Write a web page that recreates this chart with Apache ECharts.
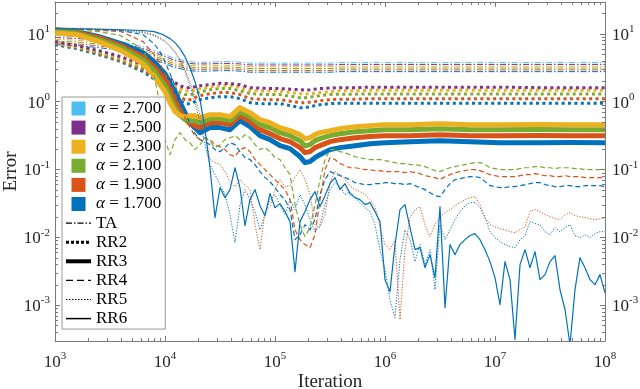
<!DOCTYPE html>
<html><head><meta charset="utf-8">
<script src="https://cdn.jsdelivr.net/npm/echarts@6/dist/echarts.min.js"></script>
<style>html,body{margin:0;padding:0;background:#fff}#c{width:640px;height:389px}</style>
</head><body><div id="c"></div><script>
// ---------- x grids (iterations) ----------
const itersCoarse = [1000,1585,2512,3981,6310,7943,10000,11100,12330,13690,15200,16880,18740,20810,25650,31620,38980,48060,59250,73050,90060,111000,136900,168800,187400,208100,231000,256500,316200,389800,533700,730500,1000000,1688000,3162000,5925000,11100000,25650000,48060000,100000000];
const itersFine = [1000,1585,2512,3981,6310,7943,9009,
 10000,11100,12330,13690,15200,16880,18740,20810,23100,25650,28480,31620,35110,38980,43290,48060,53370,59250,65790,73050,81110,90060,
 100000,111000,123300,136900,152000,168800,187400,208100,231000,256500,284800,316200,351100,389800,432900,480600,533700,592500,657900,730500,811100,900600,
 1000000,1110000,1233000,1369000,1520000,1688000,1874000,2081000,2310000,2565000,2848000,3162000,3511000,3898000,4329000,4806000,5337000,5925000,6579000,7305000,8111000,9006000,
 10000000,11100000,12330000,13690000,15200000,16880000,18740000,20810000,23100000,25650000,28480000,31620000,35110000,38980000,43290000,48060000,53370000,59250000,65790000,73050000,81110000,90060000,
 100000000];

// ---------- TA (dash-dot) ----------
const taA27 = [9.41,9.09,8.50,7.67,6.47,5.65,4.93,4.61,4.31,4.16,4.02,3.89,3.82,3.82,3.82,3.89,3.89,3.82,3.70,3.70,3.70,3.70,3.70,3.70,3.70,3.70,3.70,3.70,3.70,3.76,3.76,3.76,3.76,3.76,3.76,3.76,3.76,3.76,3.76,3.76];
const taA25 = [8.85,8.55,7.99,7.22,6.09,5.32,4.64,4.34,4.05,3.92,3.79,3.66,3.60,3.60,3.60,3.66,3.66,3.60,3.48,3.48,3.48,3.48,3.48,3.48,3.48,3.48,3.48,3.48,3.48,3.54,3.54,3.54,3.54,3.54,3.54,3.54,3.54,3.54,3.54,3.54];
const taA23 = [8.32,8.05,7.52,6.79,5.73,5.00,4.37,4.08,3.81,3.69,3.56,3.44,3.38,3.38,3.38,3.44,3.44,3.38,3.27,3.27,3.27,3.27,3.27,3.27,3.27,3.27,3.27,3.27,3.27,3.33,3.33,3.33,3.33,3.33,3.33,3.33,3.33,3.33,3.33,3.33];
const taA21 = [7.83,7.57,7.07,6.39,5.39,4.71,4.11,3.84,3.59,3.47,3.35,3.24,3.18,3.18,3.18,3.24,3.24,3.18,3.08,3.08,3.08,3.08,3.08,3.08,3.08,3.08,3.08,3.08,3.08,3.13,3.13,3.13,3.13,3.13,3.13,3.13,3.13,3.13,3.13,3.13];
const taA19 = [7.37,7.12,6.65,6.01,5.07,4.43,3.86,3.61,3.37,3.26,3.15,3.05,3.00,3.00,3.00,3.05,3.05,3.00,2.89,2.89,2.89,2.89,2.89,2.89,2.89,2.89,2.89,2.89,2.89,2.94,2.94,2.94,2.94,2.94,2.94,2.94,2.94,2.94,2.94,2.94];
const taA17 = [6.93,6.70,6.26,5.65,4.77,4.16,3.64,3.40,3.17,3.07,2.96,2.87,2.82,2.82,2.82,2.87,2.87,2.82,2.72,2.72,2.72,2.72,2.72,2.72,2.72,2.72,2.72,2.72,2.72,2.77,2.77,2.77,2.77,2.77,2.77,2.77,2.77,2.77,2.77,2.77];

// ---------- RR2 (thick dotted) ----------
const rr2A25 = [7.67,6.70,5.65,4.61,3.51,2.96,2.42,2.18,1.91,1.72,1.61,1.61,1.66,1.72,1.78,1.87,1.84,1.78,1.61,1.585,1.56,1.56,1.53,1.50,1.48,1.50,1.53,1.56,1.585,1.61,1.61,1.635,1.635,1.635,1.635,1.635,1.635,1.61,1.61,1.61];
const rr2A23 = [7.42,6.47,5.46,4.38,3.34,2.77,2.26,1.97,1.72,1.56,1.43,1.43,1.48,1.56,1.635,1.72,1.72,1.635,1.45,1.45,1.43,1.43,1.36,1.31,1.29,1.31,1.335,1.36,1.40,1.45,1.45,1.47,1.47,1.47,1.47,1.47,1.47,1.47,1.47,1.47];
const rr2A21 = [7.29,6.36,5.28,4.16,3.17,2.59,2.04,1.78,1.56,1.36,1.27,1.27,1.31,1.40,1.50,1.56,1.56,1.45,1.31,1.29,1.27,1.27,1.205,1.146,1.146,1.165,1.185,1.23,1.27,1.29,1.29,1.30,1.30,1.30,1.30,1.30,1.30,1.30,1.30,1.30];
const rr2A19 = [7.17,6.26,5.10,4.02,2.96,2.34,1.84,1.61,1.36,1.185,1.07,1.07,1.146,1.23,1.31,1.36,1.36,1.27,1.107,1.088,1.07,1.07,1.017,0.967,0.967,0.983,1.0,1.034,1.07,1.088,1.088,1.107,1.107,1.107,1.107,1.107,1.107,1.107,1.107,1.107];
const rr2A17 = [6.93,6.05,4.93,3.89,2.77,2.18,1.66,1.40,1.185,1.034,0.935,0.935,1.0,1.07,1.146,1.185,1.185,1.107,0.967,0.935,0.935,0.935,0.873,0.816,0.816,0.844,0.873,0.903,0.935,0.95,0.95,0.944,0.944,0.944,0.944,0.944,0.944,0.944,0.944,0.944];

// ---------- RR3 (thick solid) ----------
const rr3A23 = [10.4,9.73,7.67,5.65,3.64,2.42,1.40,0.967,0.712,0.622,0.601,0.622,0.622,0.581,0.643,0.643,0.601,0.816,0.688,0.543,0.490,0.414,0.373,0.326,0.285,0.294,0.326,0.349,0.373,0.400,0.428,0.443,0.458,0.458,0.474,0.458,0.458,0.462,0.458,0.458];
const rr3A21 = [10.8,10.1,8.21,6.26,4.16,2.87,1.72,1.185,0.816,0.622,0.543,0.525,0.525,0.490,0.562,0.562,0.525,0.712,0.601,0.458,0.414,0.349,0.315,0.266,0.224,0.232,0.266,0.285,0.315,0.337,0.361,0.373,0.386,0.386,0.400,0.386,0.386,0.390,0.386,0.386];
const rr3A19 = [11.2,10.4,8.79,6.70,4.61,3.28,2.11,1.45,1.00,0.737,0.562,0.474,0.443,0.414,0.490,0.490,0.458,0.622,0.507,0.386,0.337,0.285,0.257,0.210,0.177,0.183,0.210,0.224,0.257,0.275,0.294,0.305,0.315,0.315,0.326,0.315,0.315,0.318,0.315,0.315];
const rr3A17 = [11.5,10.8,9.09,7.17,5.28,3.89,2.59,1.91,1.36,0.967,0.688,0.507,0.414,0.349,0.414,0.414,0.386,0.525,0.428,0.315,0.275,0.224,0.203,0.155,0.126,0.131,0.149,0.165,0.196,0.210,0.224,0.240,0.248,0.257,0.266,0.257,0.248,0.248,0.250,0.248];

// ---------- RR4 (thin dashed) ----------
const rr4A21 = [11.5,11.3,10.8,9.41,5.85,2.50,0.903,
 0.275,0.165,0.275,0.349,0.275,0.248,0.196,0.232,0.294,0.257,0.210,0.232,0.275,0.294,0.315,0.275,0.326,0.294,0.232,0.196,0.210,0.183,
 0.149,0.140,0.106,0.0838,0.0303,0.0153,0.0102,0.0139,0.0303,0.0708,0.140,0.196,0.196,0.183,0.177,0.165,0.155,0.149,0.144,0.140,0.140,0.140,
 0.135,0.131,0.126,0.122,0.122,0.118,0.118,0.114,0.110,0.103,0.0960,0.0928,0.0993,0.106,0.110,0.114,0.118,0.122,0.126,0.126,0.118,0.106,
 0.103,0.0993,0.0993,0.0993,0.0993,0.103,0.106,0.106,0.110,0.110,0.106,0.106,0.103,0.106,0.106,0.106,0.103,0.103,0.0993,0.0993,0.0993,0.0993,
 0.0993];
const rr4A19 = [11.9,11.7,11.3,10.8,7.67,4.93,3.64,
 2.59,1.84,1.27,0.873,0.581,0.414,0.315,0.275,0.294,0.275,0.232,0.217,0.196,0.165,0.155,0.196,0.210,0.183,0.140,0.118,0.0993,0.0838,
 0.0708,0.0597,0.0504,0.0359,0.0129,0.00922,0.0078,0.00702,0.0109,0.0359,0.0993,0.149,0.140,0.122,0.114,0.106,0.106,0.103,0.0993,0.0993,0.0960,0.0960,
 0.0928,0.0928,0.0928,0.0928,0.0897,0.0928,0.0897,0.0867,0.0810,0.0783,0.0757,0.0708,0.0783,0.0838,0.0897,0.0928,0.0960,0.0993,0.0993,0.0960,0.0897,0.0838,
 0.0810,0.0783,0.0783,0.0783,0.0783,0.0810,0.0838,0.0838,0.0867,0.0838,0.0810,0.0810,0.0783,0.0783,0.0810,0.0783,0.0783,0.0783,0.0757,0.0757,0.0757,0.0757,
 0.0757];
const rr4A17 = [12.1,11.9,11.5,11.2,9.73,7.17,5.46,
 3.89,2.59,1.72,1.107,0.712,0.474,0.337,0.275,0.257,0.232,0.196,0.183,0.210,0.248,0.232,0.183,0.149,0.140,0.118,0.0928,0.0757,0.0661,
 0.0539,0.0425,0.0359,0.0255,0.00922,0.0109,0.0153,0.0129,0.0182,0.0425,0.0708,0.0928,0.0867,0.0810,0.0757,0.0708,0.0639,0.0617,0.0597,0.0597,0.0617,0.0617,
 0.0639,0.0639,0.0617,0.0617,0.0597,0.0617,0.0577,0.0539,0.0504,0.0455,0.0411,0.0397,0.0504,0.0617,0.0708,0.0732,0.0757,0.0783,0.0783,0.0757,0.0661,0.0577,
 0.0558,0.0539,0.0539,0.0558,0.0558,0.0577,0.0597,0.0617,0.0639,0.0639,0.0597,0.0577,0.0558,0.0558,0.0577,0.0577,0.0558,0.0558,0.0577,0.0577,0.0577,0.0577,
 0.0558];

// ---------- RR5 (thin dotted) ----------
const rr5A19 = [12.3,12.1,11.9,11.5,10.8,9.73,8.79,
 7.94,6.70,5.46,4.16,2.96,1.97,1.185,0.643,0.326,0.140,0.126,0.118,0.0928,0.0661,0.0558,0.0708,0.0597,0.0504,0.0153,0.00656,0.0239,0.0283,
 0.0504,0.0708,0.0558,0.0577,0.0757,0.0993,0.0708,0.0425,0.0153,0.0139,0.0215,0.0639,0.0928,0.0838,0.0708,0.0577,0.0504,0.0471,0.0425,0.0359,0.0283,0.0139,
 0.0078,0.00656,0.00922,0.00061,0.00656,0.0195,0.0255,0.0283,0.0153,0.0102,0.0153,0.0201,0.0231,0.0255,0.0292,0.0324,0.0359,0.0384,0.0397,0.0303,0.0195,0.0153,
 0.0143,0.0134,0.0129,0.0121,0.0117,0.0129,0.0143,0.0239,0.0255,0.0239,0.0215,0.0201,0.0188,0.0182,0.0215,0.0231,0.0208,0.0201,0.0195,0.0188,0.0182,0.0188,
 0.0195];
const rr5A17 = [11.9,11.7,11.5,11.2,10.4,9.41,8.50,
 7.67,6.47,5.28,4.02,2.77,1.72,0.967,0.507,0.232,0.118,0.0838,0.0597,0.0425,0.0215,0.00832,0.0303,0.0504,0.0359,0.0239,0.0129,0.0215,0.0359,
 0.0425,0.0303,0.0215,0.0359,0.0255,0.0425,0.0303,0.0182,0.0121,0.0153,0.0303,0.0504,0.0639,0.0558,0.0425,0.0471,0.0384,0.0324,0.0273,0.0239,0.0153,0.00656,
 0.00333,0.00119,0.000652,0.00467,0.0129,0.00922,0.00437,0.0078,0.00394,0.00656,0.00169,0.0153,0.00922,0.0129,0.0182,0.0239,0.0292,0.0324,0.0324,0.0273,0.0195,0.0121,
 0.00987,0.00861,0.0078,0.0073,0.00702,0.00922,0.0106,0.0170,0.0159,0.0153,0.0121,0.0109,0.0139,0.0121,0.0139,0.0153,0.0106,0.00987,0.0109,0.00987,0.0113,0.0121,
 0.0121];

// ---------- RR6 (thin solid) ----------
const rr6A17 = [11.9,11.9,11.7,11.5,11.2,10.8,10.1,
 9.41,8.50,7.42,6.05,4.61,3.17,1.97,1.07,0.386,0.106,0.0195,0.0539,0.0384,0.0504,0.106,0.0539,0.0148,0.0359,0.0504,0.0292,0.0208,0.0440,
 0.0273,0.0313,0.0239,0.0170,0.00311,0.0170,0.0239,0.0359,0.0471,0.0283,0.0411,0.0617,0.0757,0.0504,0.0617,0.0440,0.0384,0.0359,0.0303,0.0324,0.0239,0.0170,
 0.00237,0.00158,0.0078,0.0255,0.0303,0.0139,0.00656,0.00702,0.00356,0.00554,0.00254,0.0283,0.000915,0.0078,0.00554,0.0078,0.00922,0.0106,0.0113,0.00922,0.00656,0.00437,
 0.00254,0.00101,0.00437,0.00237,0.00031,0.00394,0.00656,0.00356,0.00613,0.00237,0.00281,0.00437,0.00535,0.00169,0.00086,0.00026,0.00169,0.00500,0.00356,0.00237,0.00200,0.00281,
 0.00152];

// ---------- legend / labels ----------
const alphaLabels = ['α = 2.700','α = 2.500','α = 2.300','α = 2.100','α = 1.900','α = 1.700'];
const methodLabels = ['TA','RR2','RR3','RR4','RR5','RR6'];

const COL = {a27:'#4DBEEE', a25:'#7E2F8E', a23:'#EDB120', a21:'#77AC30', a19:'#D95319', a17:'#0072BD'};
const alphaColors = [COL.a27, COL.a25, COL.a23, COL.a21, COL.a19, COL.a17];
const ST = {
  TA:  {width:1,   type:[6,2,1.5,2]},
  RR2: {width:3,   type:[3,3.4]},
  RR3: {width:5,   type:'solid'},
  RR4: {width:1.2, type:[5,3]},
  RR5: {width:1,   type:[1.2,1.6]},
  RR6: {width:1.2, type:'solid'}
};
const LEG = {
  TA:  {width:1.2, type:[6,2,1.5,2]},
  RR2: {width:3,   type:[3,2]},
  RR3: {width:4,   type:'solid'},
  RR4: {width:1.3, type:[7,4]},
  RR5: {width:1,   type:[1.5,1.5]},
  RR6: {width:1.5, type:'solid'}
};
function ser(name, xs, ys, color, st) {
  return {type:'line', name, xAxisIndex:0, yAxisIndex:0,
    data: xs.map((x,i)=>[x, ys[i]]), symbol:'none', showSymbol:false, silent:true,
    animation:false, clip:true,
    lineStyle:{color, width:st.width, type:st.type, cap:'butt', join:'round'}, itemStyle:{color}};
}
const series = [
  ser('TA 1.7', itersCoarse, taA17, COL.a17, ST.TA),
  ser('TA 1.9', itersCoarse, taA19, COL.a19, ST.TA),
  ser('TA 2.1', itersCoarse, taA21, COL.a21, ST.TA),
  ser('TA 2.3', itersCoarse, taA23, COL.a23, ST.TA),
  ser('TA 2.5', itersCoarse, taA25, COL.a25, ST.TA),
  ser('TA 2.7', itersCoarse, taA27, COL.a27, ST.TA),
  ser('RR2 1.7', itersCoarse, rr2A17, COL.a17, ST.RR2),
  ser('RR2 1.9', itersCoarse, rr2A19, COL.a19, ST.RR2),
  ser('RR2 2.1', itersCoarse, rr2A21, COL.a21, ST.RR2),
  ser('RR2 2.3', itersCoarse, rr2A23, COL.a23, ST.RR2),
  ser('RR2 2.5', itersCoarse, rr2A25, COL.a25, ST.RR2),
  ser('RR3 1.7', itersCoarse, rr3A17, COL.a17, ST.RR3),
  ser('RR3 1.9', itersCoarse, rr3A19, COL.a19, ST.RR3),
  ser('RR3 2.1', itersCoarse, rr3A21, COL.a21, ST.RR3),
  ser('RR3 2.3', itersCoarse, rr3A23, COL.a23, ST.RR3),
  ser('RR4 1.7', itersFine, rr4A17, COL.a17, ST.RR4),
  ser('RR4 1.9', itersFine, rr4A19, COL.a19, ST.RR4),
  ser('RR4 2.1', itersFine, rr4A21, COL.a21, ST.RR4),
  ser('RR5 1.7', itersFine, rr5A17, COL.a17, ST.RR5),
  ser('RR5 1.9', itersFine, rr5A19, COL.a19, ST.RR5),
  ser('RR6 1.7', itersFine, rr6A17, COL.a17, ST.RR6)
];
// legend-only entries
alphaLabels.forEach((n,i)=>series.push({type:'line', name:n, data:[], symbol:'none', color:alphaColors[i], lineStyle:{color:alphaColors[i]}, itemStyle:{color:alphaColors[i]}}));
methodLabels.forEach(n=>series.push({type:'line', name:n, data:[], symbol:'none', lineStyle:{color:'#000', width:LEG[n].width, type:LEG[n].type, cap:'butt'}, itemStyle:{color:'#000'}}));

const FONT = 'Liberation Serif';
const AX = '#7a7a7a';
const TXT = '#262626';
const rich = {
  b:{fontFamily:FONT, fontSize:17, color:TXT, lineHeight:20, verticalAlign:'bottom'},
  s:{fontFamily:FONT, fontSize:11, color:TXT, lineHeight:20, verticalAlign:'top'}
};
function powLabel(v){
  const e = Math.log10(v), r = Math.round(e);
  if (Math.abs(e-r) > 1e-6) return '';
  return '{b|10}{s|' + r + '}';
}
const YMIN = 0.000295, YMAX = 29.5;
const common = {type:'log', logBase:10, splitLine:{show:false}, minorTick:{show:false},
  axisLine:{show:true, lineStyle:{color:AX, width:1}},
  axisTick:{show:true, inside:true, length:5, lineStyle:{color:AX, width:1}}};

const chart = echarts.init(document.getElementById('c'), null, {renderer:'canvas'});
chart.setOption({
  animation:false,
  backgroundColor:'#fff',
  grid:{left:55, right:35, top:2, bottom:48, containLabel:false, outerBoundsMode:'none'},
  xAxis:[
    Object.assign({}, common, {min:1000, max:1e8, position:'bottom',
      axisLabel:{formatter:powLabel, rich, margin:10},
      name:'Iteration', nameLocation:'middle', nameGap:32, nameMoveOverlap:false,
      nameTextStyle:{fontFamily:FONT, fontSize:19, color:TXT}}),
    Object.assign({}, common, {min:1000, max:1e8, position:'top', axisLabel:{show:false}})
  ],
  yAxis:[
    Object.assign({}, common, {min:YMIN, max:YMAX, position:'left',
      axisLabel:{formatter:powLabel, rich, margin:5},
      name:'Error', nameLocation:'middle', nameGap:34, nameRotate:90, nameMoveOverlap:false,
      nameTextStyle:{fontFamily:FONT, fontSize:19, color:TXT}}),
    Object.assign({}, common, {min:YMIN, max:YMAX, position:'right',
      axisLabel:{formatter:powLabel, rich, margin:7}})
  ],
  legend:{
    orient:'vertical', left:62, top:97, padding:[3,4,2,2], itemGap:2.1,
    itemWidth:25, itemHeight:14, backgroundColor:'#fff', borderColor:'#9a9a9a', borderWidth:1,
    selectedMode:false, z:10,
    data: alphaLabels.map(n=>({name:n, icon:'path://M0 0H10V10H0Z'}))
      .concat(methodLabels.map(n=>({name:n, itemStyle:{opacity:0},
        lineStyle:{width:LEG[n].width, type:LEG[n].type, color:'#000'}}))),
    formatter: n => n.charAt(0)==='α' ? '{a|α}' + n.slice(1) : n,
    textStyle:{fontFamily:FONT, fontSize:17, color:'#000', lineHeight:14,
      rich:{a:{fontFamily:FONT, fontStyle:'italic', fontSize:17, color:'#000', lineHeight:14}}}
  },
  series
});

// minor ticks (log 2..9) placed through the axis scales
const g = [];
function tk(x1,y1,x2,y2){ g.push({type:'line', silent:true, z:5, shape:{x1,y1,x2,y2}, style:{stroke:AX, lineWidth:1}}); }
const gx0 = 55, gx1 = 605, gy0 = 2, gy1 = 341;
for (let d=3; d<8; d++) for (let m=2; m<=9; m++) {
  const px = Math.round(chart.convertToPixel({xAxisIndex:0}, m*Math.pow(10,d))) + 0.5;
  tk(px, gy1, px, gy1-3); tk(px, gy0, px, gy0+3);
}
for (let d=-4; d<2; d++) for (let m=2; m<=9; m++) {
  const v = m*Math.pow(10,d);
  if (v <= YMIN || v >= YMAX) continue;
  const py = Math.round(chart.convertToPixel({yAxisIndex:0}, v)) + 0.5;
  tk(gx0, py, gx0+3, py); tk(gx1, py, gx1-3, py);
}
chart.setOption({graphic: g});
</script></body></html>
